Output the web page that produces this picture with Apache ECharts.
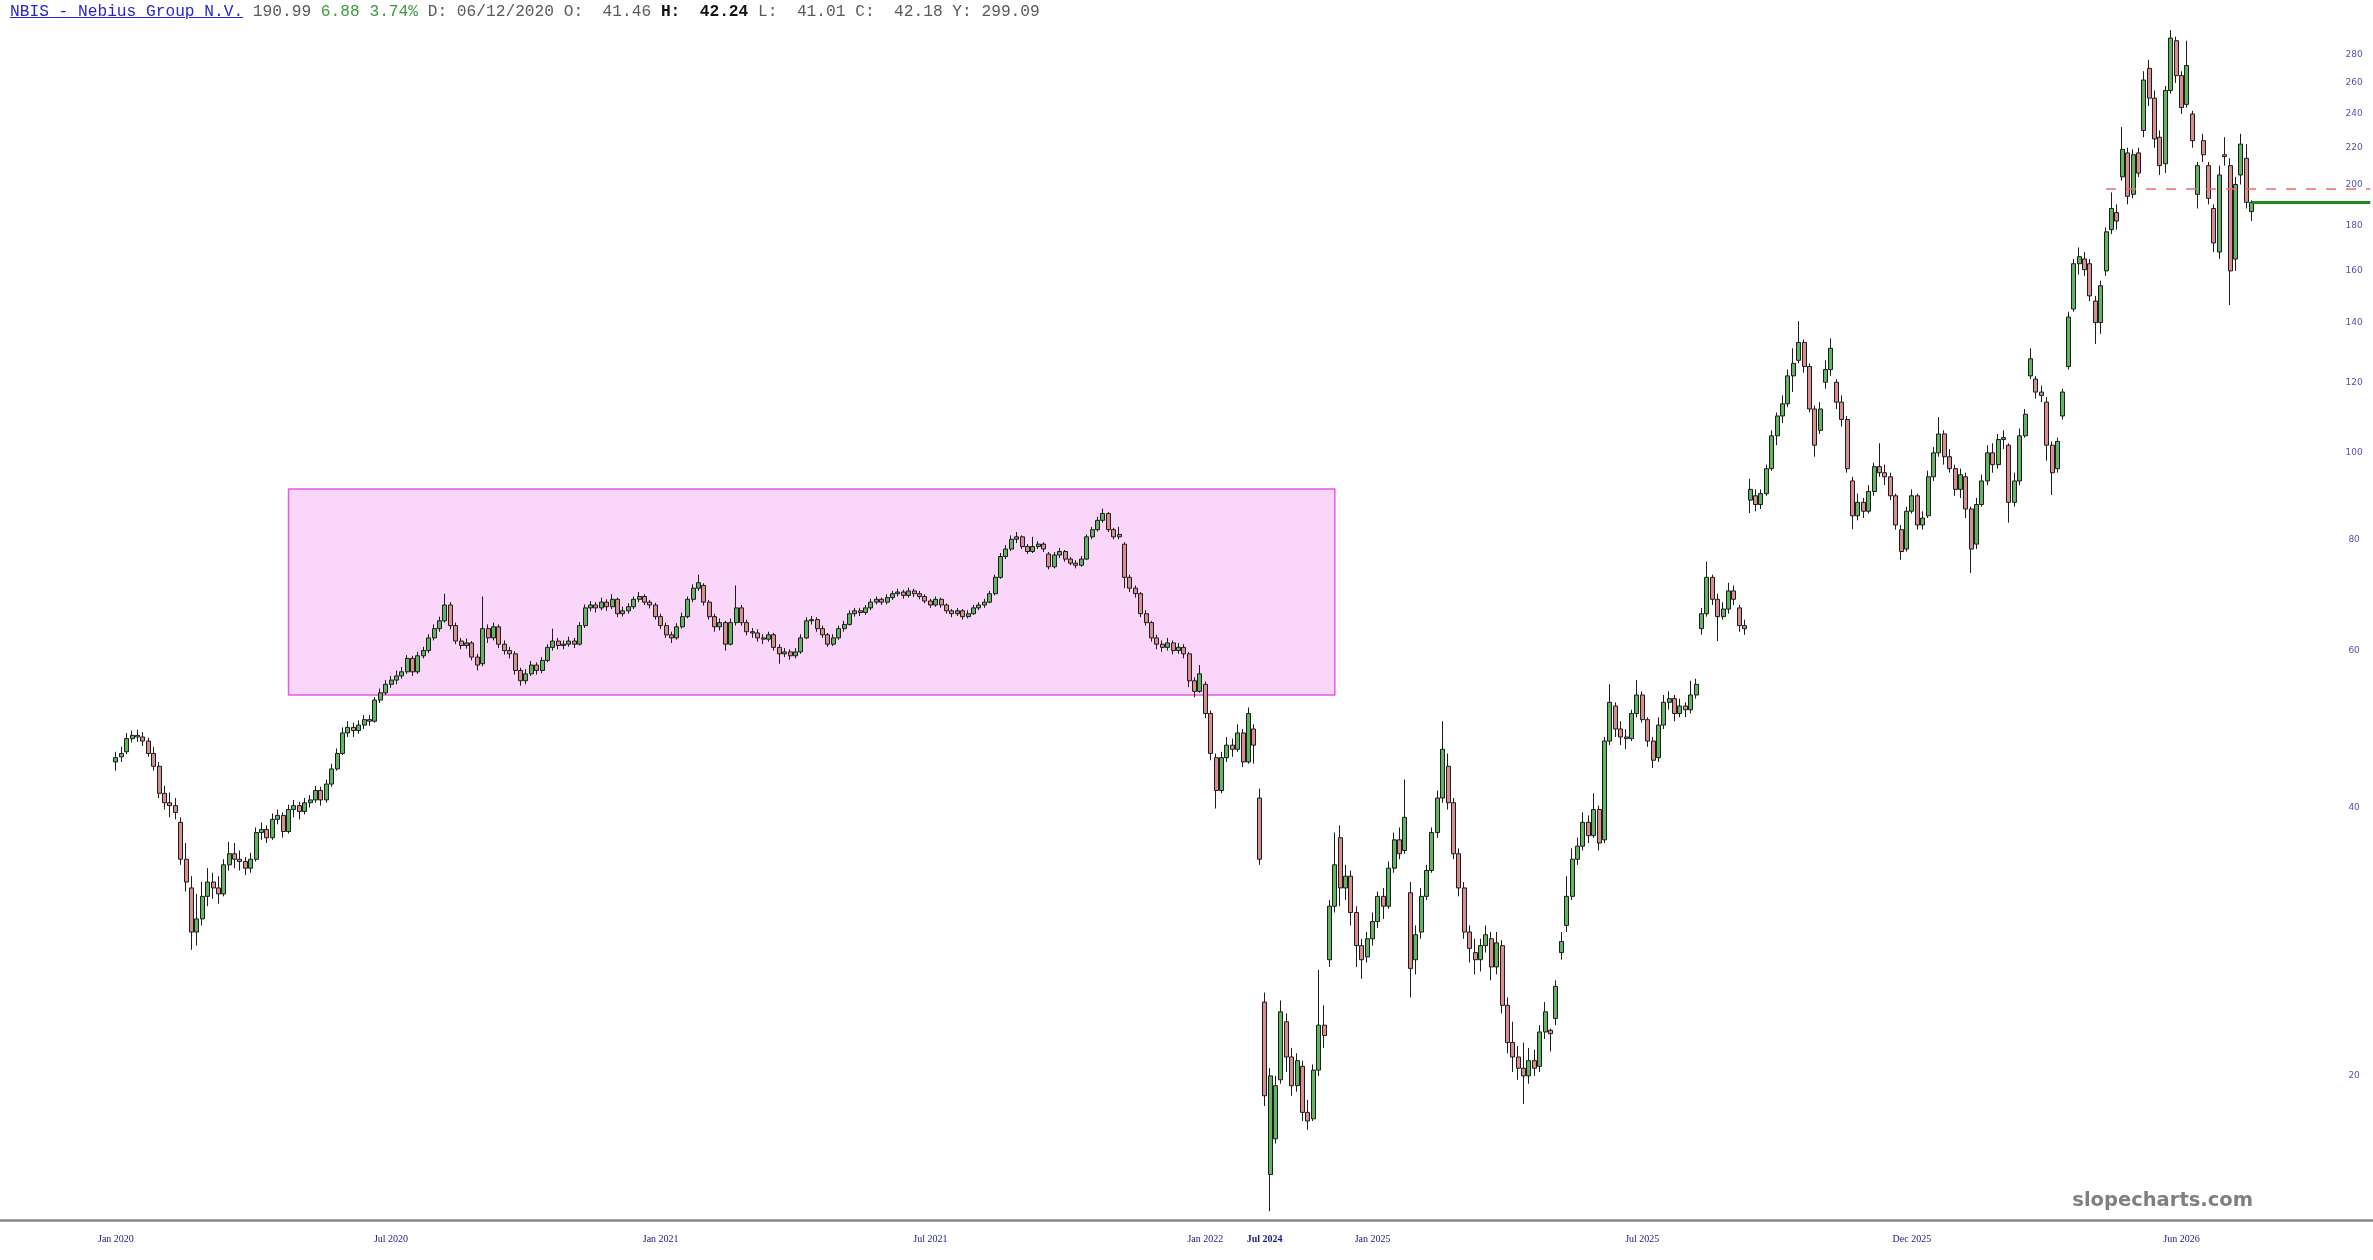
<!DOCTYPE html>
<html>
<head>
<meta charset="utf-8">
<script src="https://cdn.jsdelivr.net/npm/echarts@6/dist/echarts.min.js"></script>
<style>
html,body{margin:0;padding:0;background:#ffffff;overflow:hidden;}
#chart{position:absolute;left:0;top:0;width:2373px;height:1260px;}
#hdr{position:absolute;left:10px;top:3px;font-family:'Liberation Mono','DejaVu Sans Mono',monospace;font-size:16.2px;line-height:18px;color:#5a5a5a;white-space:pre;z-index:5;}
#hdr .tk{color:#2626c8;text-decoration:underline;}
#hdr .up{color:#3c9a3c;}
#hdr b{color:#111;}
</style>
</head>
<body>
<div id="chart"></div>
<div id="hdr"><span class="tk">NBIS - Nebius Group N.V.</span> 190.99 <span class="up">6.88 3.74%</span> D: 06/12/2020 O:  41.46 <b>H:  42.24</b> L:  41.01 C:  42.18 Y: 299.09</div>
<script>
// ---- category slots along the x axis (one slot per drawn candle position) ----
const slotCount = 440;
const seg1Start = 21;   // first candle slot (Jan 2020)
const seg2Start = 234;  // first candle slot after the trading halt

// ---- x tick labels ----
const xTickSlots  = [21, 72, 122, 172, 223, 234, 254, 304, 354, 404];
const xTickLabels = ['Jan 2020','Jul 2020','Jan 2021','Jul 2021','Jan 2022','Jul 2024','Jan 2025','Jul 2025','Dec 2025','Jun 2026'];

// ---- y tick labels ----
const yTickValues = [20,40,60,80,100,120,140,160,180,200,220,240,260,280];

// ---- candles [open, close, low, high] 2020 - Feb 2022 ----
const candles2020to2022 = [
[45.0,45.5,44.0,46.2],[45.6,46.0,45.0,46.8],[46.2,47.8,45.9,48.5],[47.8,48.2,47.3,48.8],[48.2,48.0,47.4,48.9],
[48.0,47.5,46.9,48.6],[47.5,46.0,45.6,47.9],[46.0,44.5,44.0,46.8],[44.5,41.5,41.0,45.0],[41.5,40.5,39.8,42.3],
[40.5,40.2,39.0,41.6],[40.2,39.5,38.8,41.0],[38.5,35.0,34.5,39.0],[35.0,33.0,32.2,36.5],[32.5,29.0,27.7,33.5],
[29.0,30.0,28.0,32.0],[30.0,31.8,29.5,33.0],[31.8,33.0,31.0,34.2],[33.0,32.5,31.6,33.8],[32.5,32.0,31.2,33.5],
[32.0,34.5,31.8,35.0],[34.5,35.5,34.0,36.6],[35.5,35.0,34.2,36.5],[35.0,34.8,34.0,35.8],[34.8,34.2,33.6,35.2],
[34.2,35.0,33.8,35.6],[35.0,37.5,34.8,38.0],[37.5,37.8,36.8,38.5],[37.8,37.0,36.5,38.2],[37.0,38.8,36.8,39.4],
[38.8,39.2,38.3,39.8],[39.2,37.6,37.0,39.5],[37.6,39.8,37.4,40.3],[39.8,40.2,39.0,40.8],[40.2,39.6,38.8,40.6],
[39.6,40.5,39.3,41.0],[40.5,40.8,40.0,41.3],[40.8,41.8,40.5,42.3],[41.8,40.8,40.2,42.2],[40.8,42.5,40.5,43.0],
[42.5,44.2,42.2,44.8],[44.2,46.0,44.0,46.6],[46.0,48.5,45.8,49.2],[48.5,49.2,48.0,50.0],[49.2,48.8,48.0,49.8],
[48.8,49.5,48.4,50.1],[49.5,50.2,49.0,50.8],[50.2,50.0,49.4,50.8],[50.0,52.8,49.8,53.2],[52.8,53.8,52.4,54.4],
[53.8,55.0,53.5,55.6],[55.0,55.6,54.5,56.2],[55.6,56.2,55.0,57.0],[56.2,56.8,55.8,57.5],[56.8,58.8,56.5,59.3],
[58.8,56.8,56.2,59.2],[56.8,59.2,56.5,59.8],[59.2,60.0,58.8,60.6],[60.0,62.0,59.6,62.6],[62.0,63.5,61.6,64.2],
[63.5,64.8,63.0,65.5],[64.8,67.5,64.5,69.5],[67.5,64.0,63.4,68.0],[64.0,61.5,61.0,64.5],[61.5,60.8,60.2,62.0],
[60.8,61.2,60.3,61.9],[61.2,59.0,58.5,61.5],[59.0,57.8,57.0,59.5],[58.0,63.5,57.6,69.0],[63.5,62.0,61.2,64.2],
[62.0,63.8,61.6,64.5],[63.8,61.0,60.4,64.2],[61.0,60.0,59.4,61.6],[60.0,59.5,58.8,60.6],[59.5,57.0,56.4,59.9],
[57.0,55.5,54.8,57.4],[55.5,56.5,55.0,57.2],[56.5,57.8,56.2,58.4],[57.8,57.0,56.4,58.2],[57.0,58.5,56.6,59.0],
[58.5,60.5,58.2,61.0],[60.5,61.5,60.0,63.5],[61.5,60.8,60.2,62.0],[60.8,61.0,60.2,61.6],[61.0,61.5,60.6,62.2],
[61.5,61.0,60.4,62.0],[61.0,64.0,60.8,64.6],[64.0,67.0,63.6,67.6],[67.0,67.5,66.4,68.2],[67.5,67.0,66.2,68.0],
[67.0,68.0,66.6,68.8],[68.0,67.2,66.5,68.5],[67.2,68.5,66.8,69.4],[68.5,66.0,65.4,68.8],[66.0,66.5,65.5,67.2],
[66.5,67.2,66.0,67.8],[67.2,68.5,66.8,69.0],[68.5,69.0,68.0,69.8],[69.0,68.0,67.5,69.4],[68.0,67.5,66.9,68.4],
[67.5,65.5,65.0,67.9],[65.5,64.0,63.4,66.0],[64.0,62.5,62.0,64.5],[62.5,62.0,61.2,63.0],[62.0,63.8,61.7,64.4],
[63.8,65.5,63.5,66.2],[65.5,68.5,65.2,69.0],[68.5,70.5,68.0,71.2],[70.5,71.5,70.0,73.0],[71.0,68.0,67.4,71.4],
[68.0,65.5,65.0,68.4],[65.5,63.8,63.0,66.0],[63.8,64.5,63.2,65.2],[64.5,61.0,60.0,64.8],[61.0,64.5,60.8,65.2],
[64.5,67.0,64.0,71.0],[67.0,64.5,64.0,67.5],[64.5,63.0,62.4,65.0],[63.0,62.8,62.0,63.6],[62.8,62.0,61.4,63.4],
[62.0,61.8,61.0,62.6],[61.8,62.5,61.4,63.0],[62.5,60.5,60.0,62.8],[60.5,59.5,58.0,61.0],[59.5,59.8,59.0,60.4],
[59.8,59.2,58.6,60.2],[59.2,59.8,58.8,60.4],[59.8,62.0,59.5,62.6],[62.0,64.8,61.8,65.4],[64.8,65.0,64.2,65.6],
[65.0,63.5,63.0,65.4],[63.5,62.5,62.0,64.0],[62.5,61.0,60.6,62.8],[61.0,62.0,60.7,62.6],[62.0,63.5,61.7,64.0],
[63.5,64.2,63.0,64.8],[64.2,66.0,64.0,66.6],[66.0,66.5,65.5,67.0],[66.5,66.2,65.6,67.0],[66.2,67.0,65.8,67.5],
[67.0,68.0,66.6,68.6],[68.0,68.5,67.6,69.0],[68.5,68.0,67.5,68.8],[68.0,68.8,67.6,69.4],[68.8,69.5,68.4,70.0],
[69.5,69.8,69.0,70.4],[69.8,69.2,68.6,70.2],[69.2,70.0,68.8,70.6],[70.0,69.5,68.9,70.4],[69.5,69.0,68.5,70.0],
[69.0,68.2,67.8,69.4],[68.2,67.5,67.0,68.6],[67.5,68.5,67.2,69.0],[68.5,67.5,67.0,68.8],[67.5,66.5,66.0,67.8],
[66.5,66.0,65.4,66.8],[66.0,66.5,65.6,67.0],[66.5,65.5,65.0,66.8],[65.5,66.0,65.2,66.6],[66.0,67.0,65.8,67.5],
[67.0,67.5,66.6,68.0],[67.5,68.0,67.0,68.6],[68.0,69.5,67.8,70.0],[69.5,72.5,69.2,73.0],[72.5,76.5,72.2,77.2],
[76.5,78.0,76.0,78.8],[78.0,80.0,77.6,80.8],[80.0,80.5,79.2,81.5],[80.5,78.5,78.0,80.8],[78.5,77.5,77.0,79.0],
[77.5,78.5,77.2,80.5],[78.5,79.0,78.0,79.6],[79.0,78.0,77.4,79.4],[77.0,74.5,74.0,77.4],[74.5,76.8,74.2,77.4],
[76.8,77.5,76.2,78.2],[77.5,76.0,75.5,77.8],[76.0,75.2,74.8,76.4],[75.2,74.8,74.2,75.8],[74.8,76.0,74.5,76.6],
[76.0,80.5,75.8,81.0],[80.5,82.0,80.0,82.6],[82.0,84.0,81.6,84.8],[84.0,85.5,83.5,86.6],[85.5,82.0,81.5,85.8],
[82.0,80.5,80.0,82.4],[80.5,81.0,80.0,82.6],[79.0,72.5,70.5,79.4],[72.5,70.5,69.8,73.0],[70.5,69.5,68.8,71.0],
[69.5,66.0,65.4,69.8],[66.0,64.5,64.0,66.6],[64.5,62.0,61.4,64.8],[62.0,61.0,60.2,62.5],[61.0,60.5,59.8,61.6],
[60.5,61.2,60.0,62.0],[61.2,60.0,59.4,61.6],[60.0,60.5,59.5,61.2],[60.5,59.5,58.8,61.0],[59.5,55.5,54.6,59.8],
[55.5,54.0,53.2,56.0],[54.0,56.5,53.8,57.8],[55.0,51.0,50.4,55.4],[51.0,46.0,45.2,51.4],[45.5,41.8,39.9,46.0],
[41.8,45.5,41.5,46.2],[45.5,47.0,45.0,48.0],[47.0,46.5,45.6,47.8],[46.5,48.5,46.2,49.6],[48.5,45.0,44.4,49.0],
[45.0,51.0,44.8,51.8],[49.0,47.0,44.8,49.6],[41.0,35.0,34.5,42.0]
];

// ---- candles [open, close, low, high] Oct 2024 - 2026 ----
const candles2024to2026 = [
[24.2,19.0,18.5,24.8],[15.5,20.0,14.1,20.4],[17.0,19.5,16.8,20.0],[19.8,23.6,19.6,24.3],[23.0,21.0,20.2,23.5],
[21.0,19.5,19.0,21.5],[19.5,20.8,19.2,21.2],[20.5,18.2,17.8,20.8],[18.2,17.8,17.4,18.8],[17.9,20.3,17.8,20.6],
[20.3,22.8,20.0,26.3],[22.8,22.2,21.5,24.0],[27.0,31.0,26.5,31.5],[31.0,34.5,30.5,37.5],[37.0,32.5,31.0,38.2],
[32.5,33.5,31.5,34.5],[33.5,30.5,29.5,34.0],[30.5,28.0,26.5,31.0],[28.0,27.0,25.7,28.5],[27.2,28.5,26.8,29.0],
[28.5,29.8,28.0,30.5],[29.8,31.8,29.3,32.2],[31.8,31.0,30.0,32.5],[31.0,34.2,30.8,34.8],[34.2,36.8,33.8,37.5],
[36.8,35.5,35.0,38.0],[35.8,39.0,35.5,43.0],[32.1,26.4,24.5,33.0],[27.0,28.8,26.0,29.5],[29.0,31.8,28.5,32.5],
[31.8,34.0,31.5,34.5],[34.0,37.5,33.8,38.0],[37.5,41.0,37.0,41.8],[41.0,46.5,40.5,50.0],[44.5,40.5,39.8,46.0],
[40.5,35.5,35.0,41.0],[35.5,32.5,31.8,36.0],[32.5,29.0,28.5,33.0],[29.0,27.8,26.8,29.5],[27.5,27.0,26.0,28.5],
[27.0,28.0,26.2,28.5],[28.0,28.8,27.5,29.5],[28.5,26.5,25.6,29.0],[26.5,28.2,26.0,29.0],[28.0,24.0,23.5,28.4],
[24.0,21.8,21.2,24.5],[21.8,21.0,20.2,23.0],[21.0,20.4,19.8,21.6],[20.4,20.0,18.6,21.8],[20.0,20.8,19.6,21.5],
[20.8,20.4,20.0,21.4],[20.5,22.4,20.2,22.8],[22.4,23.6,22.0,24.2],[22.5,22.3,21.3,22.6],[23.2,25.2,22.8,25.6],
[27.5,28.3,27.0,29.0],[29.5,31.8,29.0,33.5],[31.8,35.0,31.5,36.0],[35.0,36.2,34.5,37.0],[36.2,38.5,35.8,39.5],
[38.5,37.2,36.5,39.2],[37.2,39.8,37.0,41.5],[39.8,36.5,35.8,40.2],[36.8,47.5,36.5,48.0],[47.5,52.5,47.0,55.0],
[52.0,49.0,48.0,52.5],[49.0,48.0,47.0,50.0],[48.0,47.8,46.5,49.0],[47.8,51.0,47.5,51.5],[51.0,53.5,50.5,55.6],
[53.5,50.2,49.8,54.0],[50.2,47.5,46.8,50.5],[47.5,45.2,44.3,48.0],[45.5,49.5,45.0,50.5],[49.5,52.5,49.0,53.5],
[52.5,53.0,51.5,54.0],[53.0,51.0,50.0,53.5],[51.0,52.0,50.5,53.0],[52.0,51.5,50.5,52.5],[51.5,53.5,51.0,55.5],
[53.5,55.0,53.0,55.8],[63.5,66.0,62.5,67.0],[66.0,72.5,65.5,75.5],[72.5,68.5,67.5,73.0],[68.5,65.5,61.5,69.5],
[65.5,66.8,65.0,68.0],[66.8,70.0,66.0,71.5],[70.0,68.5,67.5,71.0],[67.0,64.0,63.0,67.5],[64.0,63.5,62.5,65.0],
[88.5,91.0,85.6,93.5],[89.5,87.5,86.0,91.0],[87.5,90.0,86.5,91.0],[90.0,96.0,89.5,97.0],[96.0,104.5,95.5,106.0],
[104.5,110.0,102.0,111.0],[110.0,113.5,108.0,116.0],[113.5,122.0,112.5,124.0],[122.0,126.0,117.0,131.0],[127.0,133.0,126.0,140.5],
[133.0,125.0,123.0,134.0],[125.0,112.0,111.0,126.0],[112.0,102.0,99.0,113.0],[106.0,112.0,105.0,114.0],[120.0,124.0,118.0,127.0],
[124.0,131.0,122.0,134.4],[120.0,114.0,112.0,121.0],[114.0,109.0,107.0,116.0],[109.0,96.0,95.0,110.0],[93.0,85.0,82.1,94.0],
[85.0,88.0,84.0,90.0],[88.0,86.0,84.5,89.0],[86.0,90.5,85.5,92.0],[90.5,96.5,89.5,97.5],[96.5,95.0,94.0,102.5],
[95.0,94.0,92.0,97.0],[94.0,89.5,88.5,95.0],[89.5,83.0,82.0,90.0],[82.0,77.5,75.9,83.0],[78.0,86.0,77.5,87.0],
[86.0,89.5,85.5,91.0],[89.5,83.0,82.0,90.0],[83.0,84.5,82.0,86.0],[85.0,94.0,84.5,95.5],[94.0,100.0,93.0,101.5],
[100.0,105.0,99.0,109.7],[105.0,99.0,97.0,106.0],[99.0,96.0,95.0,101.0],[96.0,91.0,89.5,97.0],[91.0,94.5,89.0,96.0],
[94.0,86.5,84.5,95.0],[86.5,78.0,73.3,87.0],[79.0,87.5,78.0,89.0],[87.5,93.0,87.0,94.5],[93.0,100.0,92.0,102.0],
[100.0,97.0,95.0,102.5],[97.0,103.5,96.0,105.0],[103.5,104.0,101.0,106.0],[102.0,88.0,83.5,102.5],[88.0,93.0,87.0,95.0],
[93.0,104.5,92.0,106.5],[104.5,110.5,104.0,112.0],[122.0,127.5,121.0,131.0],[121.0,117.0,115.0,122.0],[117.0,116.0,114.0,119.0],
[114.0,102.0,98.0,115.5],[102.0,95.0,89.7,103.0],[96.0,103.0,95.0,104.0],[110.0,117.0,109.0,118.0],[125.0,142.0,124.0,144.0],
[145.0,163.0,144.0,165.0],[163.0,166.0,158.5,170.0],[165.0,160.5,158.0,168.0],[163.0,150.0,148.0,165.0],[148.0,140.0,132.5,150.0],
[140.0,154.0,136.0,156.0],[160.0,177.0,158.0,179.0],[178.0,188.0,176.0,196.0],[186.0,182.0,178.0,190.0],[204.0,219.0,202.0,232.0],
[217.0,194.0,190.0,220.0],[195.0,216.0,193.0,219.0],[217.0,206.0,204.0,220.0],[230.0,262.0,226.0,268.0],[270.0,250.0,245.0,276.0],
[250.0,225.0,220.0,255.0],[226.0,210.0,205.0,230.0],[211.0,255.0,206.0,258.0],[255.0,292.0,253.0,298.0],[290.0,265.0,260.0,293.0],
[265.0,244.0,240.0,268.0],[246.0,272.0,244.0,290.0],[240.0,224.0,220.0,242.0],[195.0,210.0,188.0,212.0],[224.0,216.0,212.0,228.0],
[210.0,193.0,190.0,212.0],[188.0,172.0,168.0,190.0],[168.0,205.0,165.0,210.0],[216.0,215.0,210.0,226.0],[210.0,160.0,146.5,214.0],
[165.0,200.0,160.0,204.0],[205.0,222.0,200.0,228.0],[214.0,191.0,188.0,222.0],[186.5,190.99,182.0,192.0]
];

// ---- annotations ----
const rangeBox = { fromSlot: 53, toSlot: 247, top: 91.1, bottom: 53.5 };
const resistanceLevel = { fromSlot: 390, toSlot: 439, value: 197.7 };
const lastPrice = { fromSlot: 417, toSlot: 439, value: 190.99 };
const yLabelSlot = 436;

const slots = [];
for (let i = 0; i < slotCount; i++) slots.push(String(i));
const tickMap = {};
xTickSlots.forEach((s, k) => { tickMap[s] = xTickLabels[k]; });

const candleRows = []
  .concat(candles2020to2022.map((r, k) => [String(seg1Start + k), r[0], r[1], r[2], r[3]]))
  .concat(candles2024to2026.map((r, k) => [String(seg2Start + k), r[0], r[1], r[2], r[3]]));

const chart = echarts.init(document.getElementById('chart'), null, { renderer: 'canvas' });
chart.setOption({
  animation: false,
  backgroundColor: '#ffffff',
  grid: { left: 0, right: 0, top: 25, bottom: 40, containLabel: false },
  xAxis: {
    type: 'category',
    data: slots,
    boundaryGap: true,
    axisLine: { show: true, lineStyle: { color: '#858585', width: 2.5 } },
    axisTick: { show: false },
    splitLine: { show: false },
    axisLabel: {
      interval: function (idx) { return tickMap[idx] !== undefined; },
      formatter: function (val, idx) {
        const t = tickMap[Number(val)];
        if (t === undefined) return '';
        return Number(val) === seg2Start ? '{b|' + t + '}' : t;
      },
      rich: { b: { fontWeight: 'bold', fontFamily: 'Liberation Serif', fontSize: 10, color: '#1a1a80' } },
      fontFamily: 'Liberation Serif',
      fontSize: 10,
      color: '#1a1a80',
      margin: 14
    }
  },
  yAxis: {
    type: 'log',
    logBase: 10,
    min: 13.783,
    max: 302.0,
    position: 'right',
    axisLine: { show: false },
    axisTick: { show: false },
    axisLabel: { show: false },
    splitLine: { show: false }
  },
  series: [
    {
      type: 'candlestick',
      data: candleRows,
      encode: { x: 0, y: [1, 2, 3, 4] },
      barWidth: 4.5,
      itemStyle: {
        color: '#62b462',
        color0: '#d98e8e',
        borderColor: '#1c1c1c',
        borderColor0: '#1c1c1c',
        borderWidth: 1
      },
      markArea: {
        silent: true,
        itemStyle: { color: '#fbd6fb', borderColor: '#e45ce4', borderWidth: 1.5 },
        data: [[
          { xAxis: String(rangeBox.fromSlot), yAxis: rangeBox.top },
          { xAxis: String(rangeBox.toSlot), yAxis: rangeBox.bottom }
        ]]
      },
      markLine: {
        silent: true,
        symbol: ['none', 'none'],
        label: { show: false },
        data: [
          [
            { coord: [String(resistanceLevel.fromSlot), resistanceLevel.value], lineStyle: { color: '#f06a6a', width: 1.5, type: [10, 10] } },
            { coord: [String(resistanceLevel.toSlot), resistanceLevel.value] }
          ],
          [
            { coord: [String(lastPrice.fromSlot), lastPrice.value], lineStyle: { color: '#1c8a1c', width: 3, type: 'solid' } },
            { coord: [String(lastPrice.toSlot), lastPrice.value] }
          ]
        ]
      }
    },
    {
      type: 'scatter',
      silent: true,
      symbolSize: 0,
      data: yTickValues.map(v => [String(yLabelSlot), v]),
      label: {
        show: true,
        position: 'inside',
        formatter: function (p) { return String(p.value[1]); },
        fontFamily: 'DejaVu Sans',
        fontSize: 9,
        color: '#24249c'
      }
    }
  ],
  graphic: [
    {
      type: 'text',
      right: 120,
      top: 1191,
      silent: true,
      style: { text: 'slopecharts.com', font: 'bold 19.5px "DejaVu Sans"', fill: '#808080' }
    }
  ]
});
</script>
</body>
</html>
